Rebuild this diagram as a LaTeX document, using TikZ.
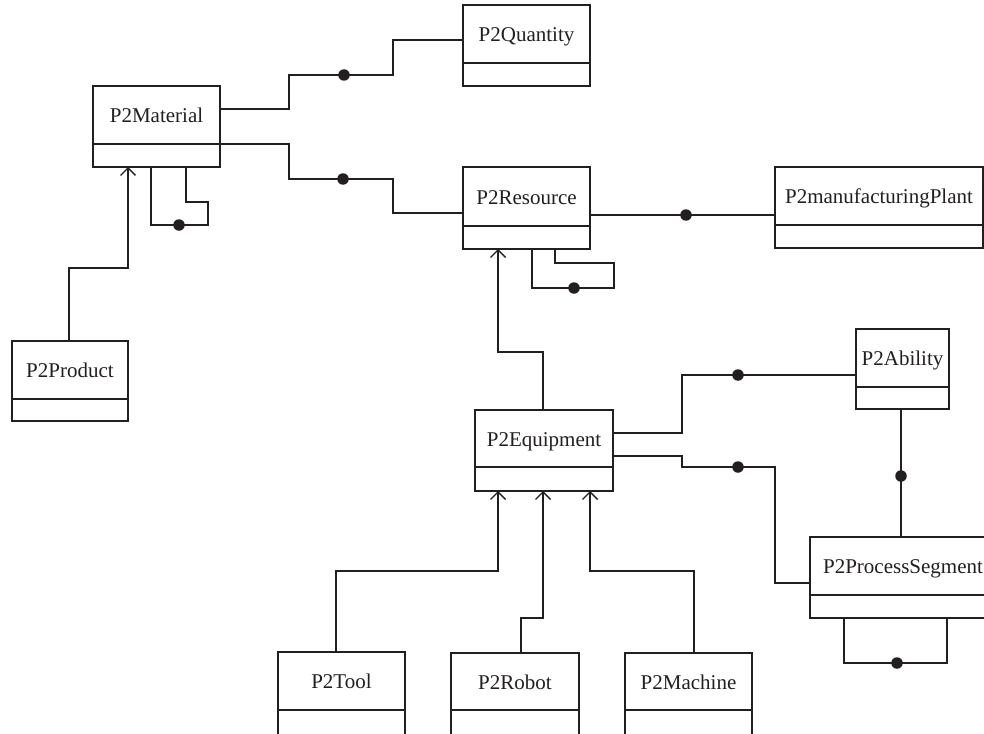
\documentclass[tikz,border=0pt]{standalone}
\usepackage{fontspec}
\setmainfont{Liberation Serif}
\usetikzlibrary{arrows.meta,calc}
\definecolor{ink}{HTML}{231F20}
\tikzset{
  cls/.style={draw=ink, line width=1.4pt, rectangle, inner sep=0pt, outer sep=0pt, anchor=north west,
    text=ink, font=\fontsize{21}{25}\selectfont, text height=15pt, text depth=0pt},
  attr/.style={draw=ink, line width=1.4pt, rectangle, inner sep=0pt, outer sep=0pt, anchor=north west},
  dot/.style={circle, fill=ink, inner sep=0pt, minimum size=11.5pt},
  link/.style={draw=ink, line width=1.4pt, line join=miter},
  gen/.style={link, -{Straight Barb[length=7.5pt,width=15pt,line width=1.4pt]}},
}
% \umlclass{name}{x}{ytop}{width}{name height}{attr height}{text}
\newcommand{\umlclass}[7]{%
  \node[cls, minimum width=#4pt, minimum height=#5pt] (#1) at (#2,#3) {#7};
  \node[attr, minimum width=#4pt, minimum height=#6pt] (#1A) at (#1.south west) {};
}
\begin{document}
\begin{tikzpicture}[x=1pt,y=-1pt]
\useasboundingbox (0,0) rectangle (984,733);
\clip (0,0) rectangle (984,733);
\fill[white] (0,0) rectangle (984,733);

% classes
\umlclass{qty}{463}{5}{127}{58}{23}{P2Quantity}
\umlclass{mat}{93}{86}{127}{58}{23}{P2Material}
\umlclass{res}{463}{167}{127}{59}{23}{P2Resource}
\umlclass{plant}{775}{167}{208}{58}{23}{P2manufacturingPlant}
\umlclass{prod}{12}{341}{116}{58}{22}{P2Product}
\umlclass{equip}{475}{410}{138}{57}{24}{P2Equipment}
\umlclass{abil}{856}{329}{93}{58}{22}{P2Ability}
\umlclass{proc}{810}{537}{186}{58}{23}{P2ProcessSegment}
\umlclass{tool}{278}{652}{127}{58}{40}{P2Tool}
\umlclass{robot}{451}{653}{128}{57}{40}{P2Robot}
\umlclass{mach}{625}{653}{127}{57}{40}{P2Machine}

% Material -- Quantity
\draw[link] ($(mat.north east)+(0,23)$) -| (289,75) -| (393,40) -- ($(qty.north west)+(0,35)$);
\node[dot] (d1) at (344,75) {};
% Material -- Resource
\draw[link] (mat.south east) -| (289,179) -| (393,213) -- ($(res.north west)+(0,46)$);
\node[dot] (d2) at (343,179) {};
% Material self association
\draw[link] ($(matA.south west)+(58,0)$) |- (208,225) |- (186,202) -- ($(matA.south west)+(93,0)$);
\node[dot] (d3) at (179,225) {};
% Product -> Material
\draw[gen] ($(prod.north west)+(57,0)$) |- (128,268) -- ($(matA.south west)+(35,0)$);

% Resource -- Plant
\draw[link] ($(res.north east)+(0,48)$) -- ($(plant.north west)+(0,48)$);
\node[dot] (d4) at (686,215) {};
% Resource self association
\draw[link] ($(resA.south west)+(69,0)$) |- (614,288) |- (555,263) -- ($(resA.south west)+(92,0)$);
\node[dot] (d5) at (574,288) {};
% Equipment -> Resource
\draw[gen] ($(equip.north west)+(68,0)$) |- (498,352) -- ($(resA.south west)+(35,0)$);

% Equipment -- Ability
\draw[link] ($(equip.north east)+(0,23)$) -| (682,375) -- ($(abil.north west)+(0,46)$);
\node[dot] (d6) at (738,375) {};
% Equipment -- ProcessSegment
\draw[link] ($(equip.north east)+(0,46)$) -| (682,467) -| (775,583) -- ($(proc.north west)+(0,46)$);
\node[dot] (d7) at (738,467) {};
% Ability -- ProcessSegment
\draw[link] ($(abilA.south west)+(45,0)$) -- ($(proc.north west)+(91,0)$);
\node[dot] (d8) at (901,476) {};
% ProcessSegment self association
\draw[link] ($(procA.south west)+(34,0)$) |- (947,663) -- ($(procA.south west)+(137,0)$);
\node[dot] (d9) at (897,663) {};

% specialisations of Equipment
\draw[gen] ($(tool.north west)+(58,0)$) |- (498,571) -- ($(equipA.south west)+(23,0)$);
\draw[gen] ($(robot.north west)+(70,0)$) |- (543,618) -- ($(equipA.south west)+(68,0)$);
\draw[gen] ($(mach.north west)+(69,0)$) |- (590,571) -- ($(equipA.south west)+(115,0)$);
\end{tikzpicture}
\end{document}
